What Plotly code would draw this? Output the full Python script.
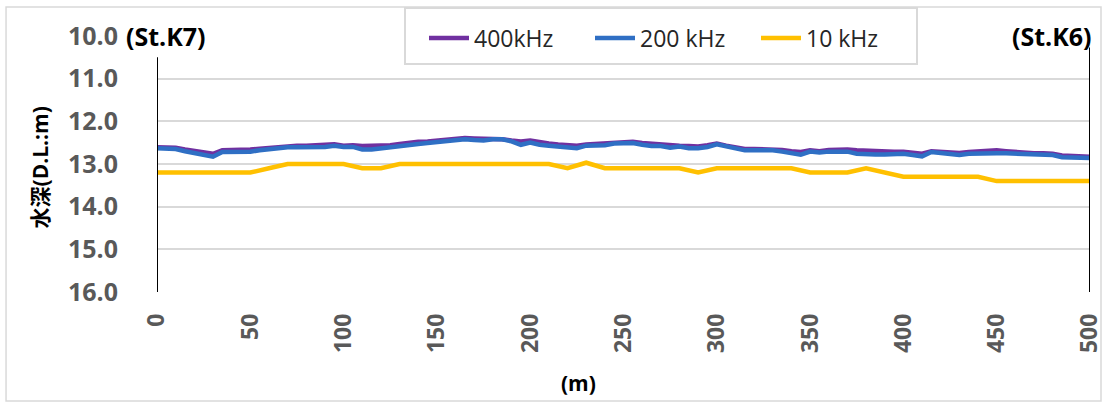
import plotly.graph_objects as go

# ---- data ----
dist_m = list(range(0, 505, 5))

depth_400khz = [
    12.61, 12.61, 12.62, 12.66, 12.70, 12.73, 12.76, 12.68, 12.68, 12.67,
    12.66, 12.64, 12.62, 12.59, 12.57, 12.57, 12.57, 12.56, 12.53, 12.54,
    12.57, 12.56, 12.58, 12.58, 12.57, 12.56, 12.53, 12.50, 12.48, 12.47,
    12.45, 12.43, 12.40, 12.39, 12.40, 12.40, 12.40, 12.42, 12.45, 12.47,
    12.45, 12.49, 12.52, 12.54, 12.56, 12.57, 12.54, 12.53, 12.52, 12.49,
    12.48, 12.48, 12.51, 12.53, 12.55, 12.57, 12.57, 12.58, 12.59, 12.56,
    12.52, 12.57, 12.62, 12.65, 12.65, 12.65, 12.66, 12.67, 12.70, 12.72,
    12.68, 12.70, 12.67, 12.66, 12.66, 12.68, 12.69, 12.70, 12.72, 12.71,
    12.71, 12.74, 12.76, 12.70, 12.71, 12.72, 12.74, 12.72, 12.70, 12.69,
    12.68, 12.70, 12.72, 12.74, 12.75, 12.75, 12.76, 12.80, 12.81, 12.82,
    12.83,
]

depth_200khz = [
    12.63, 12.64, 12.65, 12.70, 12.74, 12.79, 12.83, 12.72, 12.72, 12.72,
    12.71, 12.68, 12.65, 12.63, 12.61, 12.61, 12.61, 12.61, 12.60, 12.57,
    12.60, 12.60, 12.66, 12.66, 12.63, 12.61, 12.58, 12.55, 12.53, 12.51,
    12.49, 12.47, 12.44, 12.42, 12.44, 12.45, 12.42, 12.42, 12.47, 12.55,
    12.50, 12.55, 12.57, 12.59, 12.61, 12.63, 12.57, 12.56, 12.56, 12.52,
    12.51, 12.51, 12.55, 12.58, 12.58, 12.62, 12.59, 12.63, 12.63, 12.60,
    12.54, 12.59, 12.64, 12.68, 12.68, 12.68, 12.68, 12.71, 12.74, 12.78,
    12.71, 12.73, 12.71, 12.71, 12.71, 12.76, 12.78, 12.78, 12.78, 12.77,
    12.76, 12.79, 12.82, 12.72, 12.75, 12.77, 12.79, 12.76, 12.75, 12.75,
    12.75, 12.75, 12.76, 12.78, 12.79, 12.79, 12.79, 12.84, 12.85, 12.85,
    12.86,
]

dist_10khz = list(range(0, 510, 10))
depth_10khz = [
    13.2, 13.2, 13.2, 13.2, 13.2, 13.2, 13.1, 13.0, 13.0, 13.0,
    13.0, 13.1, 13.1, 13.0, 13.0, 13.0, 13.0, 13.0, 13.0, 13.0,
    13.0, 13.0, 13.1, 12.97, 13.1, 13.1, 13.1, 13.1, 13.1, 13.2,
    13.1, 13.1, 13.1, 13.1, 13.1, 13.2, 13.2, 13.2, 13.1, 13.2,
    13.3, 13.3, 13.3, 13.3, 13.3, 13.4, 13.4, 13.4, 13.4, 13.4,
    13.4,
]

series_names = ["400kHz", "200 kHz", "10 kHz"]
x_ticks = [0, 50, 100, 150, 200, 250, 300, 350, 400, 450, 500]
y_ticks = [10.0, 11.0, 12.0, 13.0, 14.0, 15.0, 16.0]
y_tick_labels = ["10.0", "11.0", "12.0", "13.0", "14.0", "15.0", "16.0"]

station_x = [0, 500]
station_labels = ["(St.K7)", "(St.K6)"]
station_line_top = [10.5, 10.27]
station_line_bottom = 16.12

# ---- figure ----
FONT = "Open Sans, Noto Sans CJK JP, sans-serif"
fig = go.Figure()

fig.add_trace(go.Scatter(x=dist_m, y=depth_400khz, mode="lines", name=series_names[0],
                         line=dict(color="#7030A0", width=4.5)))
fig.add_trace(go.Scatter(x=dist_m, y=depth_200khz, mode="lines", name=series_names[1],
                         line=dict(color="#2F6FC4", width=4.5)))
fig.add_trace(go.Scatter(x=dist_10khz, y=depth_10khz, mode="lines", name=series_names[2],
                         line=dict(color="#FFC000", width=4.5)))

# station vertical lines
for sx, top in zip(station_x, station_line_top):
    fig.add_shape(type="line", xref="x", yref="y", x0=sx, x1=sx, y0=top, y1=station_line_bottom,
                  line=dict(color="#000000", width=2), layer="above")

# legend box (white, covers gridline)
fig.add_shape(type="rect", xref="paper", yref="paper", x0=0.2658, x1=0.8146, y0=0.8906, y1=1.109,
              line=dict(color="#D9D9D9", width=2), fillcolor="#FFFFFF", layer="above")

# station labels
fig.add_annotation(x=station_x[0], y=10.0, xref="x", yref="y", text="<b>" + station_labels[0] + "</b>",
                   showarrow=False, xanchor="center", yanchor="middle", xshift=9,
                   font=dict(family=FONT, size=25, color="#000000"))
fig.add_annotation(x=station_x[1], y=10.0, xref="x", yref="y", text="<b>" + station_labels[1] + "</b>",
                   showarrow=False, xanchor="right", yanchor="middle", xshift=4,
                   font=dict(family=FONT, size=25, color="#000000"))

# y axis title
fig.add_annotation(x=-0.125, y=0.488, xref="paper", yref="paper",
                   text="<b>水深(D.L.:m)</b>",
                   showarrow=False, textangle=-90, xanchor="center", yanchor="middle",
                   font=dict(family=FONT, size=21, color="#000000"))
# x axis title
fig.add_annotation(x=0.452, y=-0.355, xref="paper", yref="paper", text="<b>(m)</b>",
                   showarrow=False, xanchor="center", yanchor="middle",
                   font=dict(family=FONT, size=21, color="#000000"))

# outer chart border
fig.add_shape(type="rect", xref="paper", yref="paper", x0=-0.1618, x1=1.0118, y0=-0.426, y1=1.113,
              line=dict(color="#D9D9D9", width=1.5), layer="below")

fig.update_layout(
    width=1107, height=405,
    margin=dict(l=157, r=17, t=36, b=113, autoexpand=False),
    paper_bgcolor="#FFFFFF", plot_bgcolor="#FFFFFF",
    font=dict(family=FONT, size=22, color="#595959"),
    showlegend=True,
    legend=dict(orientation="h", xref="container", yref="container",
                x=424 / 1107, y=1 - 38 / 405, xanchor="left", yanchor="middle",
                bgcolor="rgba(0,0,0,0)", borderwidth=0,
                font=dict(family=FONT, size=23, color="#262626"),
                entrywidth=111, entrywidthmode="pixels", itemwidth=40),
)
fig.update_xaxes(range=[0, 500], tickvals=x_ticks, ticktext=[str(v) for v in x_ticks],
                 tickangle=-90, showgrid=False, zeroline=False, showline=False, ticks="",
                 ticklabelstandoff=16, automargin=False,
                 tickfont=dict(family=FONT, size=23, color="#595959", weight="bold"))
fig.update_yaxes(range=[16, 10], tickvals=y_ticks, ticktext=y_tick_labels,
                 showgrid=True, gridcolor="#D9D9D9", gridwidth=1.5, zeroline=False, showline=False,
                 ticks="", ticklabelstandoff=38, automargin=False,
                 tickfont=dict(family=FONT, size=25, color="#595959", weight="bold"))

fig.write_html("out.html", config={"displayModeBar": False},
               post_script="document.body.style.margin='0px';")
